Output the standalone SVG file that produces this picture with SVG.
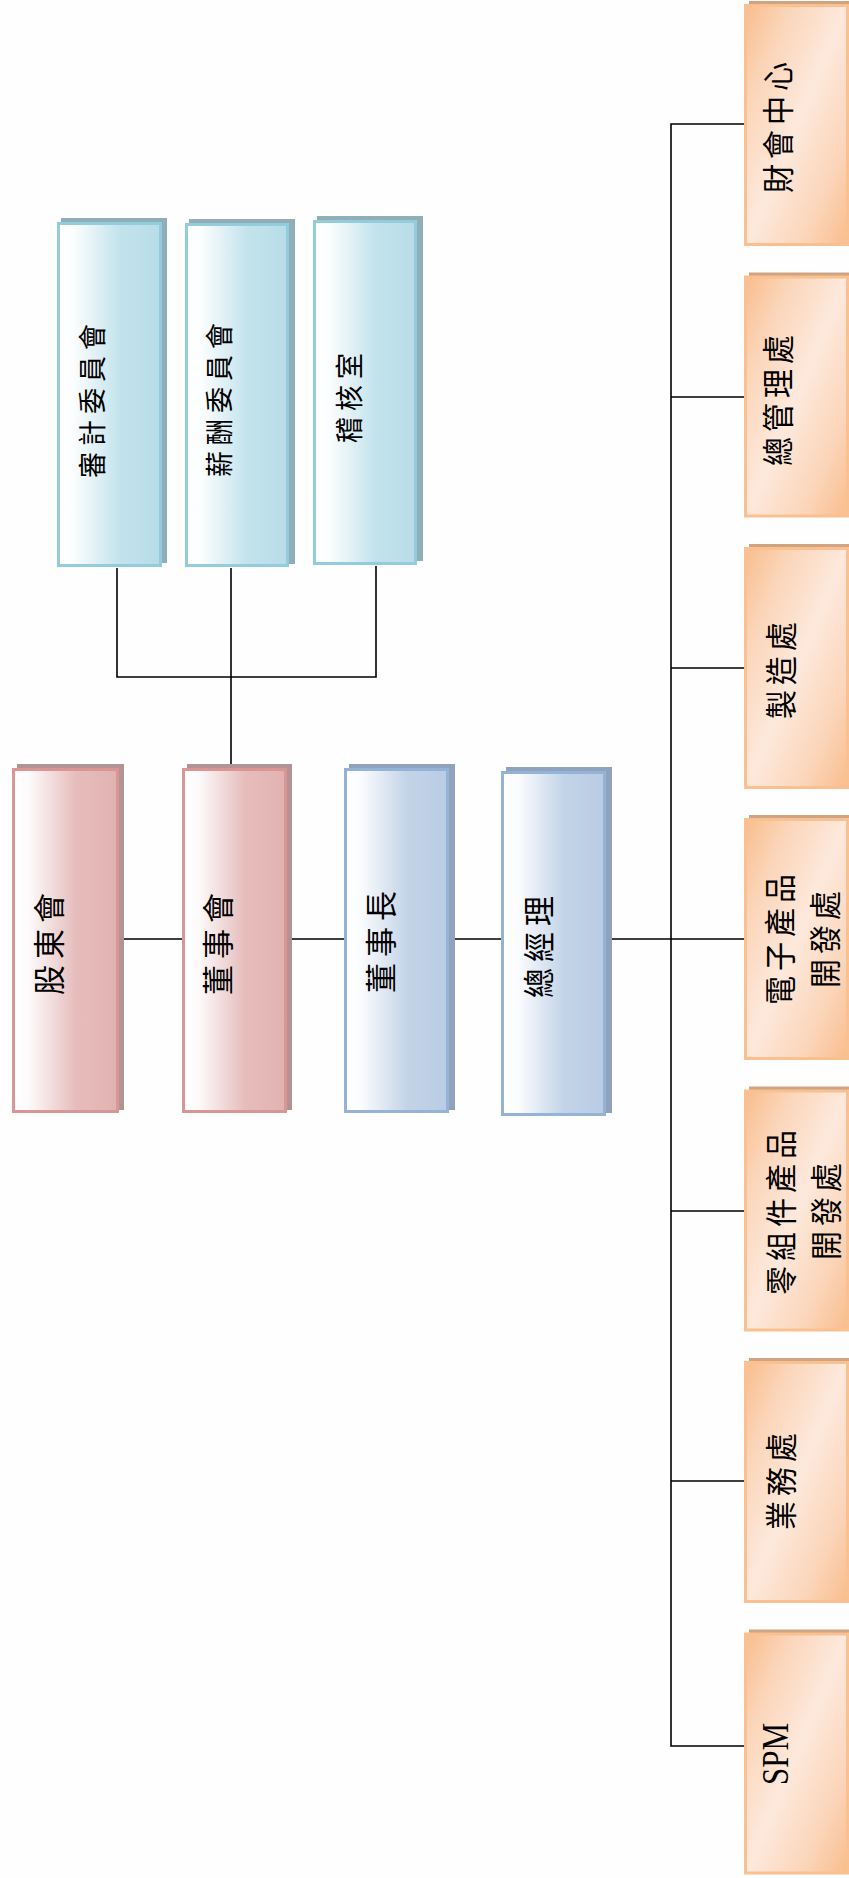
<svg xmlns="http://www.w3.org/2000/svg" width="849" height="1878" viewBox="0 0 849 1878">
<defs>
<linearGradient id="gPk" x1="0" y1="0" x2="1" y2="0">
<stop offset="0" stop-color="#ffffff"/><stop offset="0.15" stop-color="#fdfafa"/><stop offset="0.6" stop-color="#e6bdbc"/><stop offset="1" stop-color="#e2b2b2"/>
</linearGradient>
<linearGradient id="gBl" x1="0" y1="0" x2="1" y2="0">
<stop offset="0" stop-color="#ffffff"/><stop offset="0.15" stop-color="#fbfcfe"/><stop offset="0.6" stop-color="#c3d4e8"/><stop offset="1" stop-color="#b9cce4"/>
</linearGradient>
<linearGradient id="gTl" x1="0" y1="0" x2="1" y2="0">
<stop offset="0" stop-color="#ffffff"/><stop offset="0.15" stop-color="#fbfdfe"/><stop offset="0.6" stop-color="#c3e3ec"/><stop offset="1" stop-color="#b7dde8"/>
</linearGradient>
<linearGradient id="gOr" x1="0" y1="0" x2="1" y2="1">
<stop offset="0" stop-color="#f9bd8c"/><stop offset="0.22" stop-color="#fbd5b9"/><stop offset="0.5" stop-color="#fde9dc"/><stop offset="0.78" stop-color="#fbd5b9"/><stop offset="1" stop-color="#f9bd8c"/>
</linearGradient>
<style>
.bx{stroke-width:3}
.pk{fill:url(#gPk);stroke:#d99694}
.bl{fill:url(#gBl);stroke:#95b3d7}
.tl{fill:url(#gTl);stroke:#93cddd}
.or{fill:url(#gOr);stroke:#fac090}
.sPk{fill:#b39495}.sBl{fill:#8fa3bd}.sTl{fill:#91aeb7}.sOr{fill:#cfa482}
.t{font-family:"Noto Sans CJK TC","Noto Sans CJK SC",sans-serif;fill:#000;text-anchor:middle;dominant-baseline:central}
.tc{font-size:26px;letter-spacing:6px}
.tm{font-size:30px;letter-spacing:6px}
.to{font-size:29px;letter-spacing:5px}
.ts{font-family:"Liberation Serif",serif;font-size:31px;fill:#000;text-anchor:middle;dominant-baseline:central}
.ln{stroke:#000;stroke-width:1.6;fill:none}
</style>
</defs>
<rect width="849" height="1878" fill="#fefefe"/>

<g id="connectors">
<path class="ln" d="M117,568 V677 H376 V566 M231,568 V768"/>
<path class="ln" d="M119,939 H182 M286,939 H344 M449,939 H501 M606,939 H744"/>
<path class="ln" d="M744,124 H671 V1746 H744 M671,397 H744 M671,668 H744 M671,1211 H744 M671,1481 H744"/>
</g>

<g id="n_audit">
<rect class="sTl" x="61" y="218" width="106" height="345"/>
<rect class="bx tl" x="58.5" y="223.5" width="102" height="342"/>
<text class="t tc" transform="translate(90,398) rotate(-90) scale(1,1.1)">審計委員會</text>
</g>
<g id="n_comp">
<rect class="sTl" x="189" y="219" width="106" height="345"/>
<rect class="bx tl" x="186.5" y="224.5" width="101" height="341"/>
<text class="t tc" transform="translate(217,397) rotate(-90) scale(1,1.1)">薪酬委員會</text>
</g>
<g id="n_internal">
<rect class="sTl" x="317" y="216" width="106" height="345"/>
<rect class="bx tl" x="314.5" y="221.5" width="101" height="342"/>
<text class="t tc" transform="translate(347,395) rotate(-90) scale(1,1.1)">稽核室</text>
</g>

<g id="n_shareholders">
<rect class="sPk" x="17" y="764" width="107" height="346"/>
<rect class="bx pk" x="13.5" y="769.5" width="104" height="342"/>
<text class="t tm" transform="translate(47,941) rotate(-90) scale(1,1.05)">股東會</text>
</g>
<g id="n_board">
<rect class="sPk" x="187" y="764" width="105" height="346"/>
<rect class="bx pk" x="183.5" y="769.5" width="102" height="342"/>
<text class="t tm" transform="translate(216,941) rotate(-90) scale(1,1.05)">董事會</text>
</g>
<g id="n_chairman">
<rect class="sBl" x="349" y="764" width="106" height="346"/>
<rect class="bx bl" x="345.5" y="769.5" width="102" height="342"/>
<text class="t tm" transform="translate(379,939) rotate(-90) scale(1,1.05)">董事長</text>
</g>
<g id="n_gm">
<rect class="sBl" x="506" y="767" width="106" height="346"/>
<rect class="bx bl" x="502.5" y="772.5" width="102" height="342"/>
<text class="t tm" transform="translate(537,944) rotate(-90) scale(1,1.05)">總經理</text>
</g>

<g id="n_finance">
<rect class="sOr" x="749" y="1" width="100" height="242"/>
<rect class="bx or" x="745.5" y="5.5" width="102" height="239"/>
<text class="t to" transform="translate(777,125) rotate(-90) scale(1,1.08)">財會中心</text>
</g>
<g id="n_admin">
<rect class="sOr" x="749" y="272.5" width="100" height="242"/>
<rect class="bx or" x="745.5" y="277" width="102" height="239"/>
<text class="t to" transform="translate(777,398) rotate(-90) scale(1,1.08)">總管理處</text>
</g>
<g id="n_mfg">
<rect class="sOr" x="749" y="544" width="100" height="242"/>
<rect class="bx or" x="745.5" y="548.5" width="102" height="239"/>
<text class="t to" transform="translate(780,668) rotate(-90) scale(1,1.08)">製造處</text>
</g>
<g id="n_elec">
<rect class="sOr" x="749" y="815" width="100" height="242"/>
<rect class="bx or" x="745.5" y="819.5" width="102" height="239"/>
<text class="t to" transform="translate(779,937) rotate(-90) scale(1,1.08)">電子產品</text>
<text class="t to" transform="translate(824,937) rotate(-90) scale(1,1.08)">開發處</text>
</g>
<g id="n_parts">
<rect class="sOr" x="749" y="1086.5" width="100" height="242"/>
<rect class="bx or" x="745.5" y="1091" width="102" height="239"/>
<text class="t to" transform="translate(780,1210) rotate(-90) scale(1,1.08)">零組件產品</text>
<text class="t to" transform="translate(825,1209) rotate(-90) scale(1,1.08)">開發處</text>
</g>
<g id="n_sales">
<rect class="sOr" x="749" y="1358" width="100" height="242"/>
<rect class="bx or" x="745.5" y="1362.5" width="102" height="239"/>
<text class="t to" transform="translate(780,1479) rotate(-90) scale(1,1.08)">業務處</text>
</g>
<g id="n_spm">
<rect class="sOr" x="749" y="1629.5" width="100" height="242"/>
<rect class="bx or" x="745.5" y="1634" width="102" height="239"/>
<text class="ts" transform="translate(775,1754) rotate(-90) scale(1,1.2)">SPM</text>
</g>
</svg>
